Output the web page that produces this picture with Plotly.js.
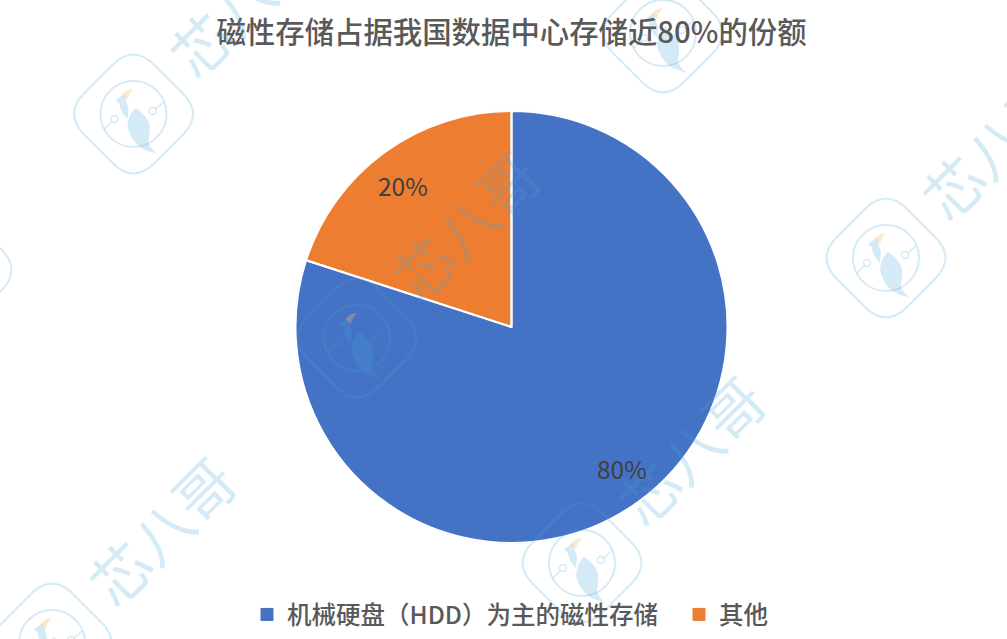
<!DOCTYPE html>
<html>
<head>
<meta charset="utf-8">
<script src="https://cdn.plot.ly/plotly-3.0.1.min.js"></script>
<style>html,body{margin:0;padding:0;background:#fff}#chart{width:1007px;height:639px}</style>
</head>
<body>
<div id="chart"></div>
<script>
const chartTitle = '磁性存储占据我国数据中心存储近80%的份额';
const categories = ['机械硬盘（HDD）为主的磁性存储', '其他'];
const shareValues = [80, 20];
const sliceColors = ['#4472C4', '#ED7D31'];

const W = 1007, H = 639;
const FONT = '"Noto Sans CJK SC","Noto Sans",sans-serif';
const px = x => (x / W).toFixed(5);
const py = y => (1 - y / H).toFixed(5);

// background watermark placement (logo centres, in page pixels)
const logoCentres = [[133.5,114],[886,258],[357,338],[582,563],[52,643],[663,33],[-48,270]];
const wmText = '芯八哥';
const wmInk = 'rgba(70,165,215,0.23)';
const wmBeak = 'rgba(240,190,120,0.35)';

function relPath(cx, cy, cmds) {
  return cmds.map(c => {
    const op = c[0], out = [];
    for (let i = 1; i < c.length; i += 2) out.push(px(cx + c[i]) + ',' + py(cy + c[i + 1]));
    return op + out.join(' ');
  }).join(' ');
}
function circle(cx, cy, r) {
  const k = r * 0.5523;
  return relPath(cx, cy, [
    ['M', -r, 0], ['C', -r, -k, -k, -r, 0, -r], ['C', k, -r, r, -k, r, 0],
    ['C', r, k, k, r, 0, r], ['C', -k, r, -r, k, -r, 0], ['Z']]);
}
function shape(path, line, fill, w) {
  return {type: 'path', xref: 'paper', yref: 'paper', layer: 'above', path: path,
    line: {color: line || 'rgba(0,0,0,0)', width: w || 0}, fillcolor: fill || 'rgba(0,0,0,0)'};
}
function logoShapes(cx, cy) {
  const a = 70, b = 21;
  return [
    shape(relPath(cx, cy, [
      ['M', -b, -a + b], ['Q', 0, -a, b, -a + b], ['L', a - b, -b], ['Q', a, 0, a - b, b],
      ['L', b, a - b], ['Q', 0, a, -b, a - b], ['L', -a + b, b], ['Q', -a, 0, -a + b, -b], ['Z']]), wmInk, null, 2),
    shape(circle(cx, cy, 33), wmInk, null, 2),
    shape(circle(cx - 19, cy + 5, 3.5), wmInk, null, 1.6),
    shape(circle(cx + 19, cy - 3, 3.5), wmInk, null, 1.6),
    shape(relPath(cx, cy, [['M', -22, 8], ['L', -29, 15]]), wmInk, null, 1.6),
    shape(relPath(cx, cy, [['M', 22, -5], ['L', 30, -12]]), wmInk, null, 1.6),
    shape(relPath(cx, cy, [['M', 2, -6], ['Q', 12, 0, 16, 10], ['Q', 17, 26, 12, 36], ['Q', -2, 30, -6, 12], ['Q', -5, 0, 2, -6], ['Z']]), null, wmInk),
    shape(relPath(cx, cy, [['M', 12, 36], ['L', 24, 40], ['Q', 18, 36, 15, 29], ['Z']]), null, wmInk),
    shape(relPath(cx, cy, [['M', -18, -13], ['Q', -14, -18, -9, -19], ['Q', -7, -12, -5, -6], ['L', -6, 5], ['Q', -14, -2, -14, -11], ['Z']]), null, wmInk),
    shape(relPath(cx, cy, [['M', -12, -19], ['Q', -6, -25, 0, -25], ['Q', -5, -20, -6, -14], ['Z']]), null, wmBeak)
  ];
}
const wmShapes = logoCentres.flatMap(c => logoShapes(c[0], c[1]));
const wmAnnotations = logoCentres.slice(0, 5).map(c => ({
  xref: 'paper', yref: 'paper', x: (c[0] + 108) / W, y: 1 - (c[1] - 113) / H,
  xanchor: 'center', yanchor: 'middle', showarrow: false, textangle: -45,
  text: wmText, font: {family: FONT, size: 59, color: wmInk}
}));

// percent labels sit near the rim of each slice, at the slice's middle angle
const pieCx = 512.5, pieCy = 327, labelR = 179;
const total = shareValues.reduce((a, b) => a + b, 0);
let cumulative = 0;
const valueLabels = shareValues.map(v => {
  const mid = (cumulative + v / 2) / total * 2 * Math.PI - 0.03;
  cumulative += v;
  return {
    xref: 'paper', yref: 'paper', showarrow: false, xanchor: 'center', yanchor: 'middle',
    x: (pieCx + labelR * Math.sin(mid)) / W,
    y: 1 - (pieCy - labelR * Math.cos(mid)) / H,
    text: Math.round(v / total * 100) + '%',
    font: {family: FONT, size: 24.5, color: '#404040'}
  };
});

const domainX = [295.5 / W, 727.5 / W];
const domainY = [1 - 543 / H, 1 - 111 / H];

const sliceTrace = {
  type: 'pie',
  labels: categories,
  values: shareValues,
  sort: false,
  direction: 'clockwise',
  rotation: 0,
  marker: {colors: sliceColors, line: {color: sliceColors, width: 1}},
  domain: {x: domainX, y: domainY},
  textinfo: 'none',
  hoverinfo: 'label+percent'
};
const separatorTrace = {
  type: 'pie',
  labels: categories,
  values: shareValues,
  sort: false,
  direction: 'clockwise',
  rotation: 0,
  marker: {colors: ['rgba(0,0,0,0)', 'rgba(0,0,0,0)'], line: {color: '#ffffff', width: 2}},
  domain: {x: domainX, y: domainY},
  textinfo: 'none',
  hoverinfo: 'skip',
  showlegend: false
};

const layout = {
  width: W, height: H,
  margin: {l: 0, r: 0, t: 0, b: 0, autoexpand: false},
  paper_bgcolor: '#ffffff',
  font: {family: FONT},
  title: {text: chartTitle, x: 0.508, xanchor: 'center', y: 1 - 33 / H, yanchor: 'middle',
          font: {family: FONT, size: 29.4, color: '#595959', weight: 500}},
  showlegend: true,
  legend: {orientation: 'h', x: 247 / W, xanchor: 'left', y: 1 - 592 / H, yanchor: 'top',
           entrywidth: 387, entrywidthmode: 'pixels',
           font: {family: FONT, size: 24.5, color: '#595959', weight: 500}, bgcolor: 'rgba(0,0,0,0)'},
  shapes: wmShapes,
  annotations: wmAnnotations.concat(valueLabels)
};

Plotly.newPlot('chart', [sliceTrace, separatorTrace], layout, {displayModeBar: false, responsive: false});
</script>
</body>
</html>
